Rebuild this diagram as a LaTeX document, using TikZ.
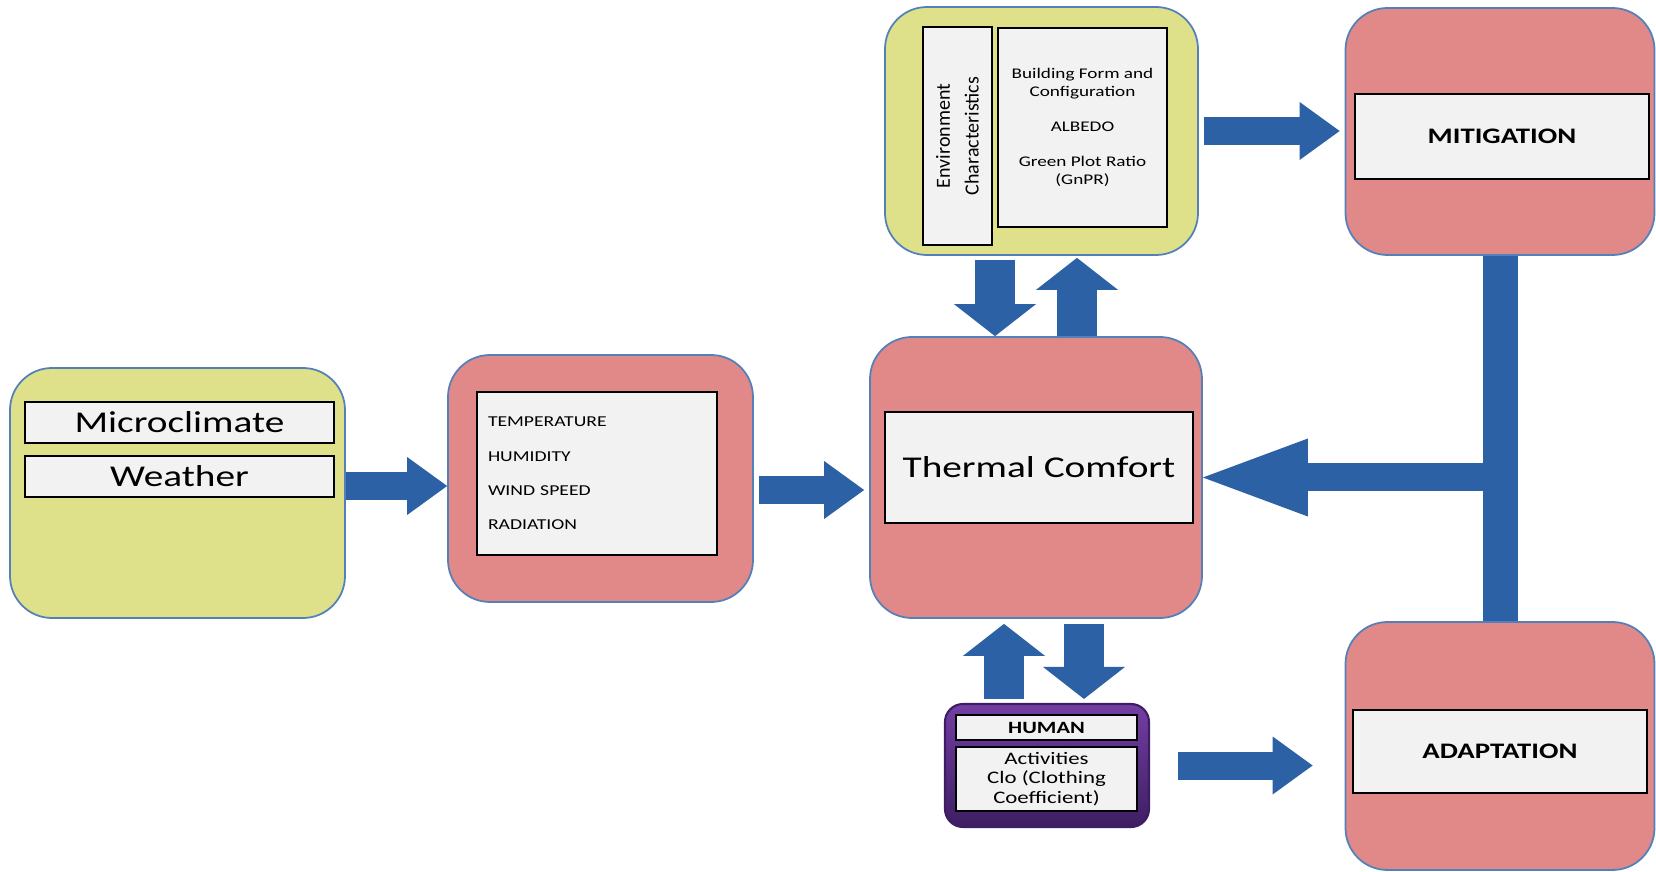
\documentclass[tikz,border=0pt]{standalone}
\usepackage{fontspec}
\setmainfont{Carlito}
\newfontfamily\widefont[FakeStretch=1.3]{Carlito}
\usetikzlibrary{arrows.meta, calc}

\definecolor{boxyellow}{RGB}{222,224,138}
\definecolor{boxpink}{RGB}{224,137,136}
\definecolor{edgeblue}{RGB}{84,128,186}
\definecolor{arrowblue}{RGB}{44,97,165}
\definecolor{innergray}{RGB}{242,242,242}
\definecolor{purpletop}{RGB}{116,62,164}
\definecolor{purplebot}{RGB}{62,30,98}

\begin{document}
\begin{tikzpicture}[
  outer/.style={rectangle, draw=edgeblue, line width=0.5pt, rounded corners=0.42cm},
  yellowbox/.style={outer, fill=boxyellow},
  pinkbox/.style={outer, fill=boxpink},
  inner/.style={rectangle, draw=black, line width=0.8pt, fill=innergray, inner sep=0pt, align=center},
  flow/.style={draw=arrowblue, line width=0.28cm, -{Triangle[length=0.40cm, width=0.58cm, line width=0pt]}},
  vflow/.style={draw=arrowblue, line width=0.40cm, -{Triangle[length=0.32cm, width=0.82cm, line width=0pt]}},
  bar/.style={draw=arrowblue, line width=0.35cm},
  feedback/.style={draw=arrowblue, line width=0.28cm, -{Triangle[length=1.05cm, width=0.78cm, line width=0pt]}}
]
  \useasboundingbox (0,0) rectangle (16.56,-8.72);

  % left: inputs
  \node[yellowbox, minimum width=3.35cm, minimum height=2.50cm] (micro) at (1.775,-4.93) {};
  \node[inner, minimum width=3.09cm, minimum height=0.41cm, font=\widefont\fontsize{8.6}{10}\selectfont] (microlbl) at (1.795,-4.225) {Microclimate};
  \node[inner, minimum width=3.09cm, minimum height=0.41cm, font=\widefont\fontsize{8.6}{10}\selectfont] (weather) at (1.795,-4.765) {Weather};

  \node[pinkbox, minimum width=3.05cm, minimum height=2.47cm] (climvars) at (6.005,-4.785) {};
  \node[inner, text width=2.18cm, minimum height=1.63cm, inner xsep=0.11cm, align=left, font=\widefont\fontsize{4.3}{9.8}\selectfont] (climlist) at (5.97,-4.735) {TEMPERATURE\\HUMIDITY\\WIND SPEED\\RADIATION};

  % centre
  \node[pinkbox, minimum width=3.32cm, minimum height=2.81cm] (thermal) at (10.36,-4.775) {};
  \node[inner, minimum width=3.08cm, minimum height=1.11cm, font=\widefont\fontsize{8.6}{10}\selectfont] (thermallbl) at (10.39,-4.675) {Thermal Comfort};

  \node[yellowbox, minimum width=3.13cm, minimum height=2.48cm] (env) at (10.415,-1.31) {};
  \node[inner, rotate=90, minimum width=2.18cm, minimum height=0.69cm, font=\fontsize{5.7}{8.2}\selectfont] (envtitle) at (9.575,-1.36) {Environment\\Characteristics};
  \node[inner, minimum width=1.69cm, minimum height=1.99cm, font=\widefont\fontsize{4.2}{5}\selectfont] (envlist) at (10.825,-1.275) {Building Form and\\Configuration\\[5pt]ALBEDO\\[5pt]Green Plot Ratio\\(GnPR)};

  \node[rectangle, rounded corners=0.18cm, draw=purplebot, line width=0.6pt, top color=purpletop, bottom color=purplebot, minimum width=2.04cm, minimum height=1.23cm] (human) at (10.47,-7.655) {};
  \node[inner, minimum width=1.81cm, minimum height=0.25cm, font=\widefont\bfseries\fontsize{4.9}{6}\selectfont] (humanlbl) at (10.465,-7.275) {HUMAN};
  \node[inner, minimum width=1.81cm, minimum height=0.64cm, font=\widefont\fontsize{5}{5.5}\selectfont] (humanlist) at (10.465,-7.79) {Activities\\Clo (Clothing\\Coefficient)};

  % right: responses
  \node[pinkbox, minimum width=3.09cm, minimum height=2.47cm] (mitig) at (15.0,-1.315) {};
  \node[inner, minimum width=2.94cm, minimum height=0.85cm, font=\widefont\bfseries\fontsize{6.3}{8}\selectfont] (mitiglbl) at (15.02,-1.365) {MITIGATION};
  \node[pinkbox, minimum width=3.09cm, minimum height=2.48cm] (adapt) at (15.0,-7.46) {};
  \node[inner, minimum width=2.94cm, minimum height=0.83cm, font=\widefont\bfseries\fontsize{6.3}{8}\selectfont] (adaptlbl) at (15.0,-7.515) {ADAPTATION};

  % block arrows
  \coordinate (a1) at ([yshift=0.07cm]micro.east);
  \draw[flow] (a1) -- (a1 -| climvars.west);
  \coordinate (a2) at ([yshift=-0.115cm]climvars.east);
  \draw[flow, shorten <=0.05cm, shorten >=0.05cm] (a2) -- (a2 -| thermal.west);
  \draw[flow, shorten <=0.05cm, shorten >=0.05cm] (env.east) -- (env.east -| mitig.west);
  \coordinate (a4) at ([xshift=-0.465cm]env.south);
  \draw[vflow, shorten <=0.04cm] (a4) -- (a4 |- thermal.north);
  \coordinate (a5) at ([xshift=0.41cm]thermal.north);
  \draw[vflow, shorten >=0.02cm] (a5) -- (a5 |- env.south);
  \coordinate (a6) at ([xshift=-0.43cm]human.north);
  \draw[vflow, shorten <=0.04cm, shorten >=0.05cm] (a6) -- (a6 |- thermal.south);
  \coordinate (a7) at ([xshift=0.48cm]thermal.south);
  \draw[vflow, shorten <=0.05cm, shorten >=0.04cm] (a7) -- (a7 |- human.north);
  \draw[flow, shorten <=0.28cm, shorten >=0.32cm] (human.east) -- (human.east -| adapt.west);

  % feedback from mitigation/adaptation
  \draw[bar] (mitig.south) -- (adapt.north);
  \coordinate (tee) at (mitig.south |- thermal.east);
  \draw[feedback] (tee) -- (thermal.east);
\end{tikzpicture}
\end{document}
